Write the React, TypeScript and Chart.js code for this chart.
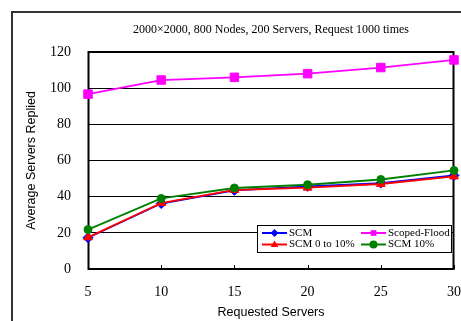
import { useEffect, useRef } from 'react';
import { Chart, registerables } from 'chart.js';

Chart.register(...registerables);

const chartTitle = '2000×2000, 800 Nodes, 200 Servers, Request 1000 times';
const xTitle = 'Requested Servers';
const yTitle = 'Average Servers Replied';

const requestedServers = [5, 10, 15, 20, 25, 30];
const scm = [17.3, 36.2, 43.5, 45.7, 47.5, 51.7];
const scopedFlood = [96.7, 104.5, 106, 108, 111.4, 115.6];
const scm0to10 = [17.5, 36.5, 43.7, 45.0, 47.0, 51.2];
const scm10 = [21.8, 39.0, 44.8, 46.6, 49.5, 54.5];

const seriesLabels = ['SCM', 'Scoped-Flood', 'SCM 0 to 10%', 'SCM 10%'];
const seriesValues = [scm, scopedFlood, scm0to10, scm10];
const seriesColors = ['#0000FF', '#FF00FF', '#FF0000', '#008000'];
const seriesPointStyles = ['rectRot', 'rect', 'triangle', 'circle'];
const seriesRadius = [5, 6, 5, 4];
const seriesOrder = [3, 2, 1, 0];

const xMin = 5;
const xMax = 30;
const xStep = 5;
const yMin = 0;
const yMax = 120;
const yStep = 20;

const SERIF = "'Liberation Serif', 'DejaVu Serif', serif";
const SANS = "'Liberation Sans', Arial, sans-serif";

function drawMarker(ctx: CanvasRenderingContext2D, style: string, x: number, y: number, r: number, color: string) {
  ctx.save();
  ctx.fillStyle = color;
  ctx.beginPath();
  if (style === 'rectRot') {
    ctx.moveTo(x, y - r);
    ctx.lineTo(x + r, y);
    ctx.lineTo(x, y + r);
    ctx.lineTo(x - r, y);
    ctx.closePath();
  } else if (style === 'rect') {
    const s = r * Math.SQRT1_2;
    ctx.rect(x - s, y - s, 2 * s, 2 * s);
  } else if (style === 'triangle') {
    ctx.moveTo(x, y - r);
    ctx.lineTo(x + r * 0.95, y + r * 0.6);
    ctx.lineTo(x - r * 0.95, y + r * 0.6);
    ctx.closePath();
  } else {
    ctx.arc(x, y, r, 0, Math.PI * 2);
  }
  ctx.fill();
  ctx.restore();
}

const framePlugin = {
  id: 'framePlugin',
  beforeDraw(chart: any) {
    const ctx = chart.ctx as CanvasRenderingContext2D;
    ctx.save();
    ctx.fillStyle = '#fff';
    ctx.fillRect(0, 0, chart.width, chart.height);
    ctx.fillStyle = '#333';
    ctx.fillRect(11, 11, 2, chart.height);
    ctx.fillRect(11, 11, chart.width, 2);
    ctx.restore();
  },
  beforeDatasetsDraw(chart: any) {
    const ctx = chart.ctx as CanvasRenderingContext2D;
    const { left, top, right, bottom } = chart.chartArea;
    ctx.save();
    ctx.strokeStyle = '#000';
    ctx.lineWidth = 2;
    ctx.strokeRect(left + 0.5, top, right - left - 1, bottom - top);
    const xs = chart.scales.x;
    ctx.lineWidth = 1;
    ctx.beginPath();
    xs.ticks.forEach((t: any) => {
      const px = Math.round(xs.getPixelForValue(t.value)) + 0.5;
      ctx.moveTo(px, bottom);
      ctx.lineTo(px, bottom - 4);
    });
    ctx.stroke();
    ctx.restore();
  },
  afterDraw(chart: any) {
    const ctx = chart.ctx as CanvasRenderingContext2D;
    const { left, right } = chart.chartArea;
    ctx.save();
    // title
    ctx.fillStyle = '#000';
    ctx.font = `12px ${SERIF}`;
    ctx.textAlign = 'center';
    ctx.textBaseline = 'middle';
    ctx.fillText(chartTitle, (left + right) / 2, 30);

    // legend
    const boxL = 257.5;
    const boxT = 225.5;
    const boxW = 194;
    const boxH = 27;
    ctx.fillStyle = '#fff';
    ctx.fillRect(boxL, boxT, boxW, boxH);
    ctx.strokeStyle = '#000';
    ctx.lineWidth = 1;
    ctx.strokeRect(boxL, boxT, boxW, boxH);
    ctx.font = `11px ${SERIF}`;
    ctx.textAlign = 'left';
    chart.data.datasets.forEach((ds: any, i: number) => {
      const col = i % 2;
      const row = Math.floor(i / 2);
      const x0 = boxL + 4.5 + col * 99;
      const y = boxT + 7.5 + row * 11.5;
      ctx.strokeStyle = ds.borderColor;
      ctx.lineWidth = 2;
      ctx.beginPath();
      ctx.moveTo(x0, y);
      ctx.lineTo(x0 + 25, y);
      ctx.stroke();
      drawMarker(ctx, ds.pointStyle, x0 + 12.5, y, 4, ds.borderColor);
      ctx.fillStyle = '#000';
      ctx.fillText(ds.label, x0 + 27, y);
    });
    ctx.restore();
  },
};

export default function App() {
  const canvasRef = useRef<HTMLCanvasElement | null>(null);

  useEffect(() => {
    if (!canvasRef.current) return;
    const datasets = seriesLabels.map((label, i) => ({
      label,
      data: requestedServers.map((x, j) => ({ x, y: seriesValues[i][j] })),
      borderColor: seriesColors[i],
      backgroundColor: seriesColors[i],
      pointBackgroundColor: seriesColors[i],
      pointBorderColor: seriesColors[i],
      pointStyle: seriesPointStyles[i],
      pointRadius: seriesRadius[i],
      pointBorderWidth: 1,
      borderWidth: 1.8,
      tension: 0,
      clip: false as any,
      order: seriesOrder[i],
    }));

    const chart = new Chart(canvasRef.current, {
      type: 'line',
      data: { datasets },
      plugins: [framePlugin],
      options: {
        responsive: false,
        animation: false,
        devicePixelRatio: 1,
        layout: { padding: { left: 0, top: 52, right: 6, bottom: 0 } },
        plugins: {
          legend: { display: false },
          tooltip: { enabled: false },
          title: { display: false },
        },
        scales: {
          x: {
            type: 'linear',
            min: xMin,
            max: xMax,
            border: { display: false },
            grid: { display: false, drawTicks: false },
            ticks: {
              stepSize: xStep,
              padding: 15,
              color: '#000',
              font: { family: SERIF, size: 14 },
              maxRotation: 0,
            },
            title: {
              display: true,
              text: xTitle,
              color: '#000',
              font: { family: SANS, size: 12.5 },
              padding: { top: 0, bottom: 1 },
            },
            afterFit(scale: any) {
              scale.height = 52;
              scale.paddingLeft = 0;
              scale.paddingRight = 0;
            },
          },
          y: {
            type: 'linear',
            min: yMin,
            max: yMax,
            border: { display: false },
            grid: { color: '#000', lineWidth: 1, drawTicks: false },
            ticks: {
              stepSize: yStep,
              padding: 17,
              color: '#000',
              font: { family: SERIF, size: 14 },
            },
            title: {
              display: true,
              text: yTitle,
              color: '#000',
              font: { family: SANS, size: 12.5 },
              padding: { top: 24.5, bottom: 0 },
            },
            afterFit(scale: any) {
              scale.width = 88;
              scale.paddingTop = 0;
              scale.paddingBottom = 0;
            },
          },
        },
      } as any,
    });
    return () => chart.destroy();
  }, []);

  return (
    <div style={{ position: 'absolute', left: 0, top: 0, width: 461, height: 321 }}>
      <canvas ref={canvasRef} width={461} height={321} style={{ display: 'block' }} />
    </div>
  );
}
